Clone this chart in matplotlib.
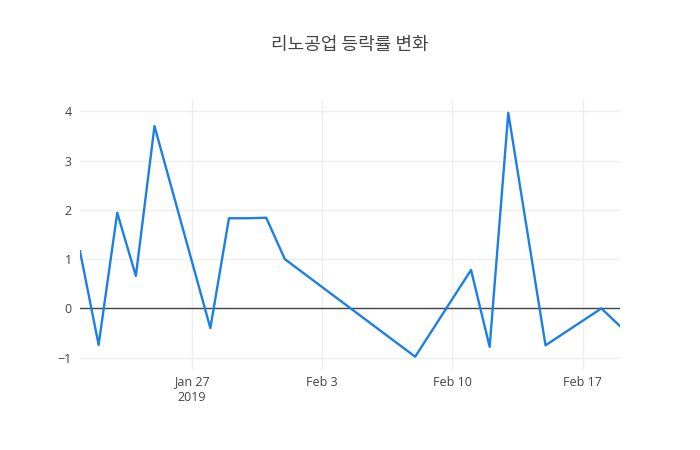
import numpy as np
import pandas as pd
import matplotlib
matplotlib.use('Agg')
import matplotlib.pyplot as plt
import matplotlib.dates as mdates

plt.rcParams['font.family'] = ['Open Sans', 'Noto Sans CJK KR', 'DejaVu Sans']

# data
dates = ['2019-01-21', '2019-01-22', '2019-01-23', '2019-01-24', '2019-01-25',
         '2019-01-28', '2019-01-29', '2019-01-30', '2019-01-31', '2019-02-01',
         '2019-02-08', '2019-02-11', '2019-02-12', '2019-02-13', '2019-02-15',
         '2019-02-18', '2019-02-19']
change = [1.16, -0.74, 1.94, 0.66, 3.70,
          -0.40, 1.83, 1.83, 1.84, 1.00,
          -0.98, 0.78, -0.78, 3.97, -0.75,
          0.00, -0.36]
tick_dates = ['2019-01-27', '2019-02-03', '2019-02-10', '2019-02-17']
tick_labels = ['Jan 27\n2019', 'Feb 3', 'Feb 10', 'Feb 17']
title = '리노공업 등락률 변화'

x = pd.to_datetime(dates)

fig = plt.figure(figsize=(7, 4.5), dpi=100)
ax = fig.add_axes([80/700, 80/450, 540/700, 270/450])

ax.plot(x, change, color='#1a80e6', lw=1.7, zorder=3)
ax.axhline(0, color='#444444', lw=1, zorder=2)

ax.set_xlim(x[0], x[-1])
ax.set_ylim(-1.25, 4.23)
ax.set_yticks([-1, 0, 1, 2, 3, 4])
ax.set_yticklabels(['\u22121', '0', '1', '2', '3', '4'])
ax.set_xticks(pd.to_datetime(tick_dates))
ax.set_xticklabels(tick_labels)

ax.grid(True, color='#eeeeee', lw=1, zorder=0)
for s in ax.spines.values():
    s.set_visible(False)
ax.tick_params(length=0, labelsize=9, labelcolor='#444444')
ax.tick_params(axis='y', pad=6)
ax.tick_params(axis='x', pad=4)

fig.text(0.5, 1 - 45/450, title, ha='center', va='center', fontsize=13,
         color='#444444', family=['Noto Sans CJK KR', 'DejaVu Sans'])

fig.savefig('out.png', dpi=100)
